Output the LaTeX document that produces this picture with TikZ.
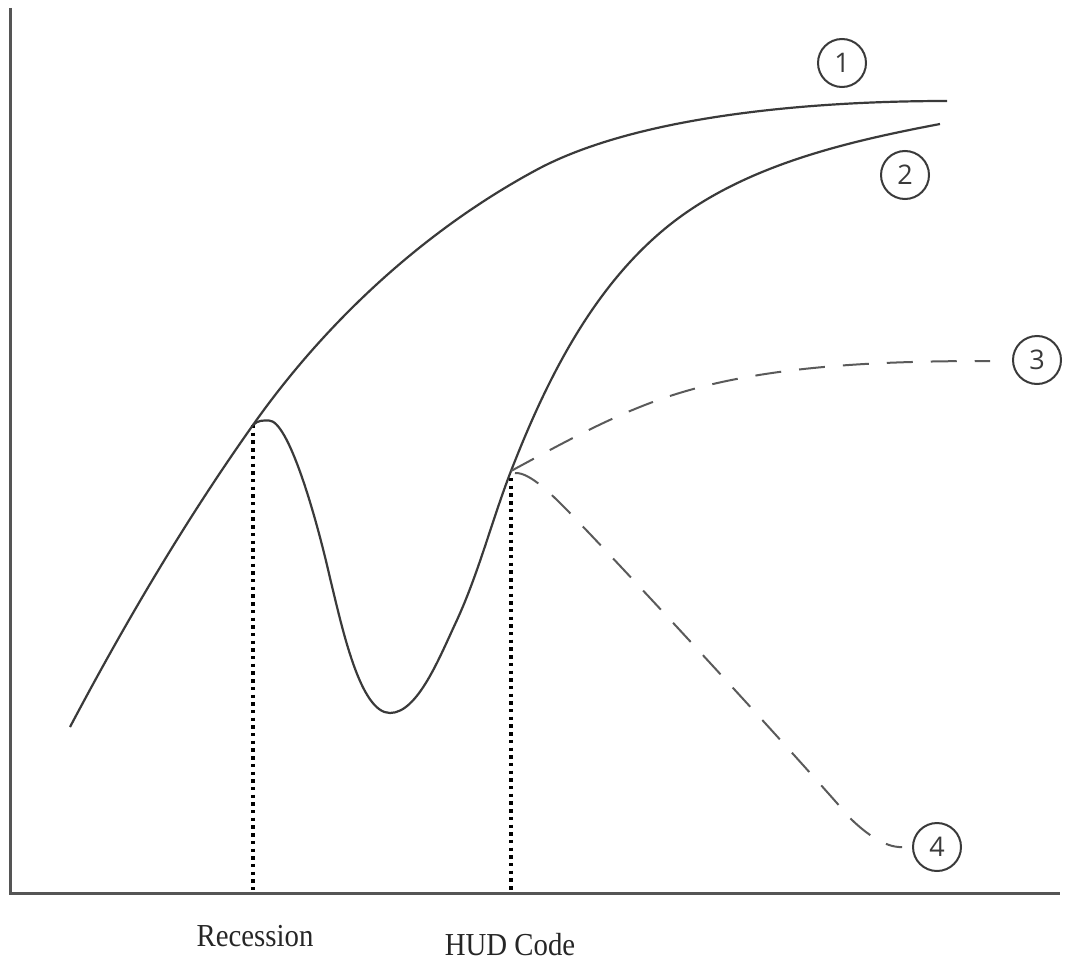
\documentclass[tikz,border=0pt]{standalone}
\usepackage{fontspec}
\usepackage{graphicx}
\setmainfont{Liberation Serif}
\newfontfamily\digitfont{Open Sans}
\definecolor{curvecol}{HTML}{3A3A3A}
\definecolor{dashcol}{HTML}{5A5A5A}
\definecolor{axiscol}{HTML}{555555}
\tikzset{
  axisline/.style={draw=axiscol, line width=3pt},
  solidcurve/.style={draw=curvecol, line width=2.2pt, line join=round},
  dashcurve/.style={draw=dashcol, line width=2pt, dash pattern=on 26pt off 18pt},
  dotline/.style={draw=black, line width=3.4pt, dash pattern=on 3.4pt off 4.3pt},
  numcircle/.style={circle, draw=curvecol, line width=2pt, minimum size=48pt, inner sep=0pt,
     font=\digitfont\fontsize{27}{32}\selectfont, text=curvecol},
  axislabel/.style={anchor=base, inner sep=0pt, font=\fontsize{32}{38}\selectfont, text=black!85}
}
\begin{document}
\begin{tikzpicture}[x=1pt, y=-1pt]
\useasboundingbox (0,0) rectangle (1078,960);
% axes
\coordinate (ytop) at (10,8);
\coordinate (orig) at (10,893);
\coordinate (xend) at (1060,893);
\draw[axisline] (ytop) -- (orig) -- (xend);
% key points
\coordinate (rec) at (253,425);
\coordinate (hud) at (511,471);
\coordinate (recbase) at (253,891);
\coordinate (hudbase) at (511,891);
\coordinate (hudtop) at (511,478);
% dotted verticals
\draw[dotline] (rec) -- (recbase);
\draw[dotline] (hudtop) -- (hudbase);
% curve 1
\draw[solidcurve] (70,727) .. controls (125,623) and (185,521) .. (rec)
  .. controls (327,320) and (427,228) .. (540,168)
  .. controls (640,116) and (809,101) .. (947,101);
% curve 2
\draw[solidcurve] (rec) .. controls (258,420) and (263,420.5) .. (269,420.5)
  .. controls (288,420.5) and (315,512) .. (330,578)
  .. controls (342,627) and (360,713) .. (390,713)
  .. controls (418,713) and (440,656) .. (457,620)
  .. controls (479,572) and (492,520) .. (hud)
  .. controls (546,381) and (592,288) .. (667,227)
  .. controls (742,166) and (845,142) .. (940,124);
% dashed 3
\draw[dashcurve] (hud) .. controls (561,444) and (613,415) .. (667,397)
  .. controls (762,365) and (882,361) .. (990,361);
% dashed 4
\draw[dashcurve] (515,473) .. controls (530,472) and (553,496) .. (567,510)
  .. controls (630,575) and (791,750) .. (850,818)
  .. controls (864,832) and (885,848) .. (902,847);
% numbered circles
\node[numcircle] (n1) at (842,63) {1};
\node[numcircle] (n2) at (905,175) {2};
\node[numcircle] (n3) at (1037,360) {3};
\node[numcircle] (n4) at (937,847) {4};
% axis labels
\node[axislabel] (lrec) at (255,946) {\scalebox{0.9}[1]{Recession}};
\node[axislabel] (lhud) at (510,955) {\scalebox{0.9}[1]{HUD Code}};
\end{tikzpicture}
\end{document}
